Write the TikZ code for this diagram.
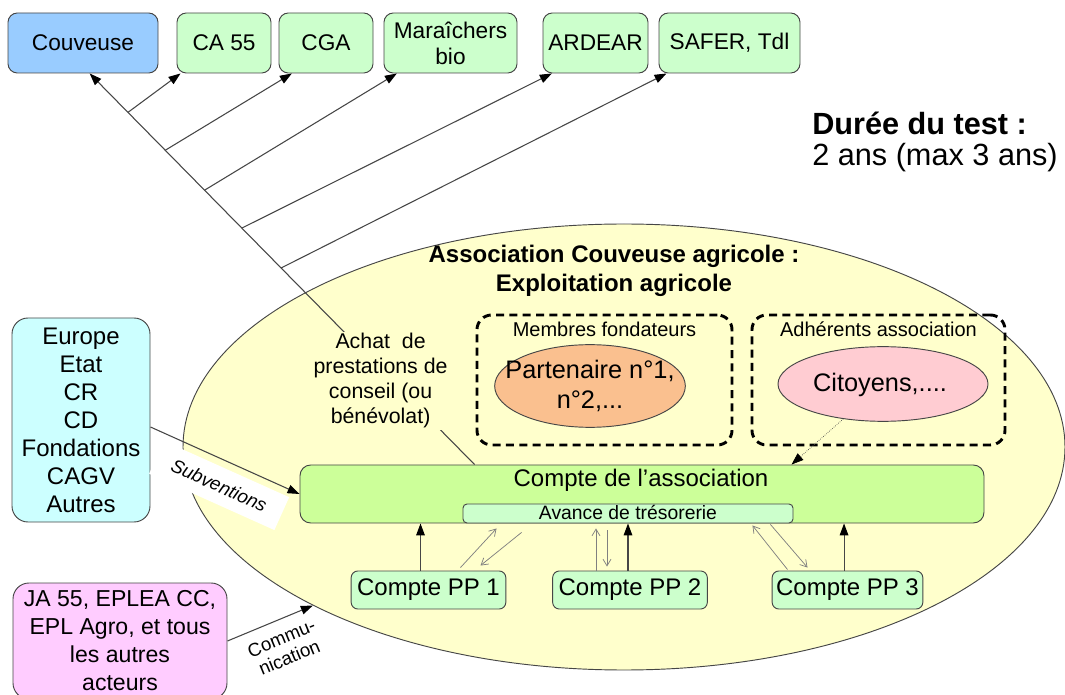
\documentclass[tikz,border=0pt]{standalone}
\usepackage{fontspec}
\setmainfont{Liberation Sans}
\usetikzlibrary{arrows.meta,calc,shapes.geometric}

\definecolor{couvblue}{RGB}{153,204,255}
\definecolor{partgreen}{RGB}{204,255,204}
\definecolor{assocyellow}{RGB}{255,255,204}
\definecolor{comptegreen}{RGB}{204,255,153}
\definecolor{fundcyan}{RGB}{204,255,255}
\definecolor{actpink}{RGB}{255,204,255}
\definecolor{foundorange}{RGB}{250,192,143}
\definecolor{citpink}{RGB}{255,204,210}
\definecolor{edgegray}{RGB}{70,70,70}

\begin{document}
\begin{tikzpicture}[x=0.75pt, y=-0.75pt,
        box/.style={draw=edgegray, line width=0.7pt, rounded corners=7pt, align=center, inner sep=1pt},
        topbox/.style={box, fill=partgreen, minimum height=45pt, font=\fontsize{17}{19.5}\selectfont},
        ppbox/.style={box, fill=partgreen, rounded corners=5pt, minimum width=116pt, minimum height=28.5pt, font=\fontsize{18}{20}\selectfont},
        sidebox/.style={box, rounded corners=12pt, font=\fontsize{18}{21}\selectfont},
        dashbox/.style={draw, line width=2.2pt, dash pattern=on 6pt off 4pt, rounded corners=11pt, minimum height=97.5pt},
        memberell/.style={ellipse, draw=edgegray, line width=0.7pt, inner sep=0pt},
        conn/.style={draw=edgegray, line width=0.8pt, -{Triangle[length=9pt,width=6.5pt,color=black]}},
        flowarrow/.style={draw=gray, line width=0.55pt, -{Straight Barb[length=5pt,width=6pt]}}]
        \useasboundingbox (0,0) rectangle (1065,695);

        % Association
        \node[ellipse, draw=edgegray, line width=0.7pt, fill=assocyellow, minimum width=661.5pt, minimum height=334.5pt] (assoc) at (624,447) {};
        \node[font=\bfseries\fontsize{18}{21.75}\selectfont, align=center] (assoctitle) at (614,271) {Association Couveuse agricole :\\Exploitation agricole};

        % Members
        \node[dashbox, minimum width=191.25pt] (membres) at (604.5,380) {};
        \node[font=\fontsize{15}{17}\selectfont] (membreslabel) at ($(membres.north)+(0,16)$) {Membres fondateurs};
        \node[memberell, fill=foundorange, minimum width=143pt, minimum height=62pt] (partenaire) at (590,386) {};
        \node[align=center, font=\fontsize{19}{22.5}\selectfont] (partenairetext) at (partenaire) {Partenaire n°1,\\n°2,...};
        \node[dashbox, minimum width=189.75pt] (adherents) at (878.5,380) {};
        \node[font=\fontsize{15}{17}\selectfont] (adherentslabel) at ($(adherents.north)+(0,16)$) {Adhérents association};
        \node[memberell, fill=citpink, minimum width=157.5pt, minimum height=56pt] (citoyens) at (883,384) {};
        \node[font=\fontsize{19}{22}\selectfont] (citoyenstext) at (880,385) {Citoyens,....};

        % Accounts
        \node[box, fill=comptegreen, rounded corners=8pt, minimum width=513pt, minimum height=43.5pt] (compte) at (642,494) {};
        \node[font=\fontsize{18}{20}\selectfont] (comptelabel) at (641,480) {Compte de l’association};
        \node[box, fill=partgreen, rounded corners=3pt, minimum width=247.5pt, minimum height=14.25pt, inner sep=0pt, text height=10.5pt, text depth=2pt, font=\fontsize{14.5}{15}\selectfont] (avance) at (628,513.5) {Avance de trésorerie};
        \node[ppbox] (pp1) at (428.5,590) {Compte PP 1};
        \node[ppbox] (pp2) at (630,590) {Compte PP 2};
        \node[ppbox, minimum width=113pt] (pp3) at (847.5,590) {Compte PP 3};

        % Partners
        \node[box, fill=couvblue, minimum width=112.5pt, minimum height=45pt, font=\fontsize{17}{19.5}\selectfont] (couveuse) at (83,43) {Couveuse};
        \node[topbox, minimum width=70.5pt] (ca) at (224,43) {CA 55};
        \node[topbox, minimum width=70.5pt] (cga) at (326,43) {CGA};
        \node[topbox, minimum width=99.75pt] (mara) at (450.5,43) {Maraîchers\\bio};
        \node[topbox, minimum width=78.75pt] (ardear) at (595.5,43) {ARDEAR};
        \node[topbox, minimum width=105.75pt] (safer) at (729.5,43) {SAFER, Tdl};

        % Funders and actors
        \node[sidebox, fill=fundcyan, minimum width=103.5pt, minimum height=153pt] (europe) at (81,420) {Europe\\Etat\\CR\\CD\\Fondations\\CAGV\\Autres};
        \node[sidebox, fill=actpink, minimum width=160.5pt, minimum height=87pt, font=\fontsize{17.3}{21}\selectfont] (actors) at (120,641) {JA 55, EPLEA CC,\\EPL Agro, et tous\\les autres\\acteurs};

        % Duration
        \node[anchor=west, align=left, inner sep=0pt, font=\fontsize{23}{23.5}\selectfont] (duree) at (812,142) {\textbf{Durée du test :}\\2 ans (max 3 ans)};

        % Purchase of advice
        \draw[conn] ($(compte.north west)+(175,0)$) -- node[pos=0.214, xshift=-8.7pt, fill=assocyellow, inner sep=1pt, align=center, font=\fontsize{16}{18.75}\selectfont] (achat) {Achat~ de\\prestations de\\conseil (ou\\bénévolat)}
            coordinate[pos=0.5026] (bsafer) coordinate[pos=0.6046] (bardear) coordinate[pos=0.7015] (bmara)
            coordinate[pos=0.8036] (bcga) coordinate[pos=0.9005] (bca) ([xshift=5pt]couveuse.south);
        \draw[conn] (bca) -- ([xshift=3pt]ca.south west);
        \draw[conn] (bcga) -- ([xshift=10pt]cga.south west);
        \draw[conn] (bmara) -- ([xshift=10pt]mara.south west);
        \draw[conn] (bardear) -- ([xshift=7pt]ardear.south west);
        \draw[conn] (bsafer) -- ([xshift=6pt]safer.south west);

        % Funding and communication
        \draw[conn] ([yshift=-5.25pt]europe.east) -- node[sloped, below=5pt, pos=0.53, fill=white, inner sep=1pt, minimum width=103pt, minimum height=27pt, font=\itshape\fontsize{14}{16}\selectfont] (subv) {Subventions} (compte.west);
        \draw[conn] (actors.east) -- node[sloped, below=5pt, pos=0.55, align=center, font=\fontsize{14}{15.5}\selectfont] (commu) {Commu-\\nication} (assoc.207);
        \draw[conn, line width=0.5pt, densely dotted] (citoyens) -- ($(compte.north west)+(492,0)$);

        % Personal accounts
        \draw[conn] ([xshift=-6pt]pp1.north) -- ([xshift=-6pt]pp1.north |- compte.south);
        \draw[conn] ([xshift=-1.5pt]pp2.north) -- ([xshift=-1.5pt]pp2.north |- compte.south);
        \draw[conn] ([xshift=-2.6pt]pp3.north) -- ([xshift=-2.6pt]pp3.north |- compte.south);
        \draw[flowarrow] ($(pp1.north)+(32,-3)$) -- ($(avance.south west)+(34,5)$);
        \draw[flowarrow] ($(avance.south west)+(59,9)$) -- ($(pp1.north)+(52,-5)$);
        \draw[flowarrow] ($(pp2.north)+(-34,0)$) -- ($(avance.south)+(-32,5)$);
        \draw[flowarrow] ($(avance.south)+(-21,7)$) -- ($(pp2.north)+(-23,-4)$);
        \draw[flowarrow] ($(pp3.north)+(-60,-1)$) -- ($(avance.south east)+(-41,2)$);
        \draw[flowarrow] ($(avance.south east)+(-23,1)$) -- ($(pp3.north)+(-40,-3)$);
    \end{tikzpicture}
\end{document}
